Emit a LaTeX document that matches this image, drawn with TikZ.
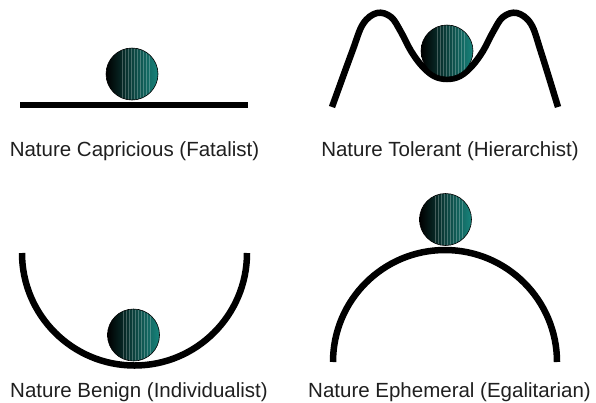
\documentclass[tikz,border=0pt]{standalone}
\usepackage{fontspec}
\setmainfont{Liberation Sans}
\usetikzlibrary{positioning}
\definecolor{ballteal}{RGB}{24,132,124}
\definecolor{balldark}{RGB}{6,62,60}

\begin{document}
\begin{tikzpicture}[
        x=1bp, y=-1bp,
        ground/.style={line width=6.5bp, black},
        ball/.style={left color=black, middle color=balldark, right color=ballteal},
        stripe/.style={white, opacity=0.25, line width=0.5bp},
        caption/.style={font=\fontsize{20.5bp}{24bp}\selectfont, text=black!88, anchor=base, inner sep=0pt}
    ]
    \useasboundingbox (0,0) rectangle (596,402);

    % the four landscapes
    \draw[ground] (20,105) -- (248,105);
    \draw[ground] plot[smooth, tension=0.6] coordinates {(332,107) (352,52) (363,24) (377,13) (391,17) (401,32) (411,51) (422,66) (434,76) (447,79) (460,76) (472,66) (483,51) (493,32) (503,17) (517,13) (531,24) (541,52) (558,107)};
    \draw[ground] (22,253) arc[start angle=180, end angle=0, radius=112.5];
    \draw[ground] (333,362) arc[start angle=180, end angle=360, radius=112];

    % balls
    \foreach \bx/\by in {132/74, 447/51, 133.5/335, 445.5/219.5} {
        \shade[ball] (\bx,\by) circle[radius=26];
        \begin{scope}
            \clip (\bx,\by) circle[radius=26];
            \foreach \s in {-10,-7,...,18}
                \draw[stripe] (\bx+\s,\by-26) -- ++(0,52);
        \end{scope}
        \draw[black, line width=0.6bp] (\bx,\by) circle[radius=26];
    }

    \node[caption] (fatalist) at (134.5,156) {Nature Capricious (Fatalist)};
    \node[caption] (hierarchist) at (450,156) {Nature Tolerant (Hierarchist)};
    \node[caption] (individualist) at (139,397) {Nature Benign (Individualist)};
    \node[caption] (egalitarian) at (449.5,397) {Nature Ephemeral (Egalitarian)};
\end{tikzpicture}
\end{document}
